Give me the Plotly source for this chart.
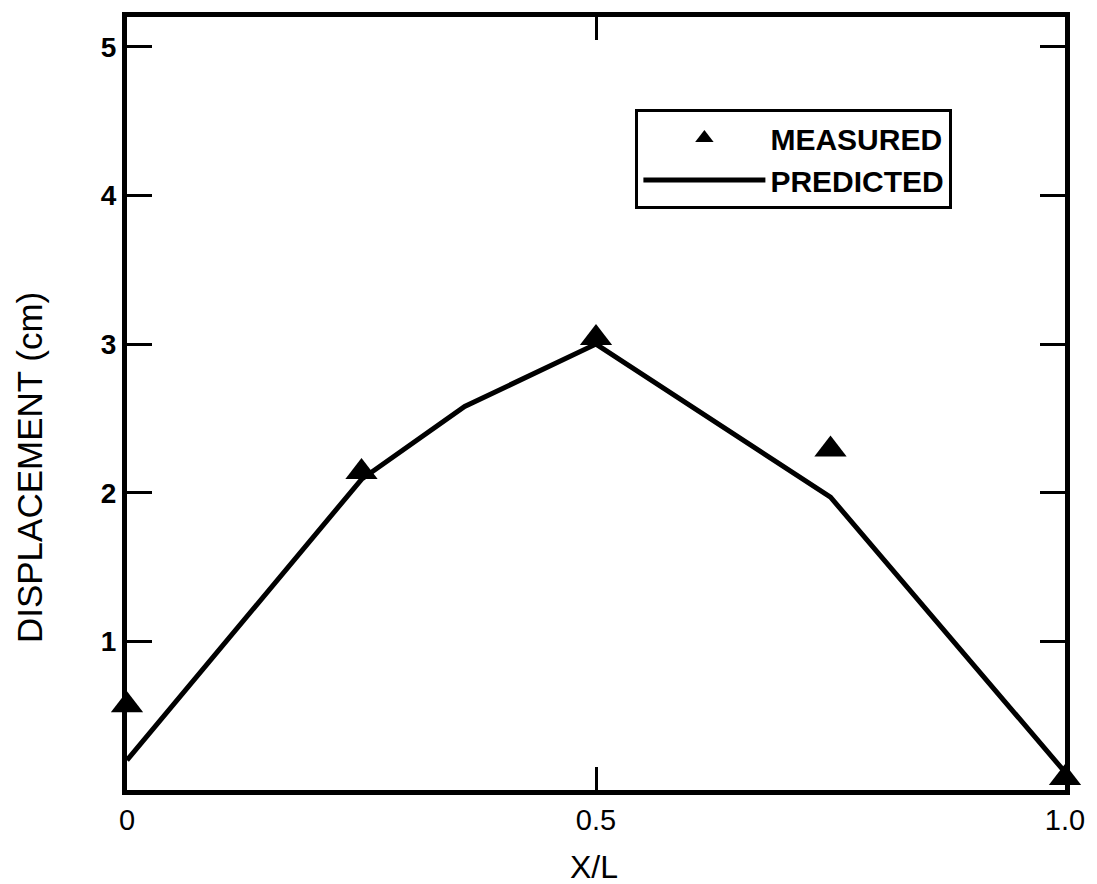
import plotly.graph_objects as go

# Measured displacement (triangles)
measured_x = [0.0, 0.25, 0.5, 0.75, 1.0]
measured_y = [0.57, 2.14, 3.04, 2.29, 0.08]

# Predicted displacement (solid line)
predicted_x = [0.0, 0.25, 0.36, 0.5, 0.75, 1.0]
predicted_y = [0.20, 2.09, 2.58, 3.00, 1.97, 0.12]

x_tickvals = [0.0, 0.5, 1.0]
x_ticktext = ["0", "0.5", "1.0"]
y_tickvals = [1, 2, 3, 4, 5]
y_ticktext = ["1", "2", "3", "4", "5"]

FONT = "Liberation Sans"

fig = go.Figure()
fig.add_trace(go.Scatter(
    x=measured_x, y=measured_y, mode="markers", name="MEASURED",
    marker=dict(symbol="triangle-up", size=28, color="black"),
    cliponaxis=False,
))
fig.add_trace(go.Scatter(
    x=predicted_x, y=predicted_y, mode="lines", name="PREDICTED",
    line=dict(color="black", width=5),
    cliponaxis=False,
))

fig.update_layout(
    width=1097, height=884,
    margin=dict(l=127, r=29, t=15, b=94),
    paper_bgcolor="white", plot_bgcolor="white",
    font=dict(family=FONT, color="black"),
    showlegend=True,
    legend=dict(
        x=0.542, y=0.881, xanchor="left", yanchor="top",
        bordercolor="black", borderwidth=3, bgcolor="white",
        font=dict(family=FONT, size=30, color="black", weight="bold"),
        itemwidth=122, entrywidth=335, entrywidthmode="pixels",
    ),
    xaxis=dict(
        range=[0, 1], tickvals=x_tickvals, ticktext=x_ticktext,
        ticks="inside", ticklen=23, tickwidth=3, tickcolor="black",
        showline=True, linewidth=5, linecolor="black", mirror="ticks",
        showgrid=False, zeroline=False,
        tickfont=dict(family=FONT, size=29, color="black"),
    ),
    yaxis=dict(
        range=[0, 5.2], tickvals=y_tickvals, ticktext=y_ticktext,
        ticks="inside", ticklen=25, tickwidth=3, tickcolor="black",
        showline=True, linewidth=5, linecolor="black", mirror="ticks",
        showgrid=False, zeroline=False,
        tickfont=dict(family=FONT, size=28, color="black", weight="bold"),
    ),
    annotations=[
        dict(text="X/L", xref="paper", yref="paper", x=0.498, y=-0.0994,
             xanchor="center", yanchor="middle", showarrow=False,
             font=dict(family=FONT, size=32, color="black")),
        dict(text="DISPLACEMENT (cm)", xref="paper", yref="paper",
             x=-0.104, y=0.417, xanchor="center", yanchor="middle",
             textangle=-90, showarrow=False,
             font=dict(family=FONT, size=35, color="black")),
    ],
)

fig.write_html("out.html")
